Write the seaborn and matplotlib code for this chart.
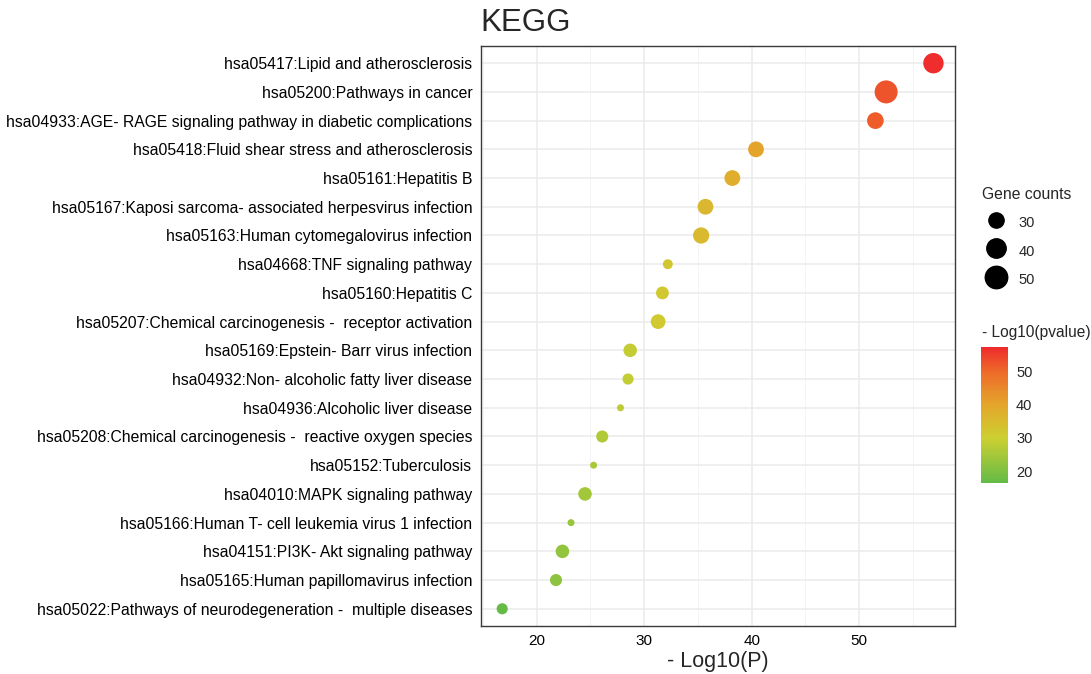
import numpy as np
import pandas as pd
import matplotlib
matplotlib.use("Agg")
import matplotlib.pyplot as plt
import seaborn as sns
from matplotlib.colors import LinearSegmentedColormap, Normalize
from matplotlib.lines import Line2D
from matplotlib.cm import ScalarMappable

# KEGG terms, top to bottom
terms = [
    "hsa05417:Lipid and atherosclerosis",
    "hsa05200:Pathways in cancer",
    "hsa04933:AGE- RAGE signaling pathway in diabetic complications",
    "hsa05418:Fluid shear stress and atherosclerosis",
    "hsa05161:Hepatitis B",
    "hsa05167:Kaposi sarcoma- associated herpesvirus infection",
    "hsa05163:Human cytomegalovirus infection",
    "hsa04668:TNF signaling pathway",
    "hsa05160:Hepatitis C",
    "hsa05207:Chemical carcinogenesis -  receptor activation",
    "hsa05169:Epstein- Barr virus infection",
    "hsa04932:Non- alcoholic fatty liver disease",
    "hsa04936:Alcoholic liver disease",
    "hsa05208:Chemical carcinogenesis -  reactive oxygen species",
    "hsa05152:Tuberculosis",
    "hsa04010:MAPK signaling pathway",
    "hsa05166:Human T- cell leukemia virus 1 infection",
    "hsa04151:PI3K- Akt signaling pathway",
    "hsa05165:Human papillomavirus infection",
    "hsa05022:Pathways of neurodegeneration -  multiple diseases",
]
neg_log_p = [56.9, 52.5, 51.5, 40.4, 38.2, 35.7, 35.3, 32.2, 31.7, 31.3,
             28.7, 28.5, 27.8, 26.1, 25.3, 24.5, 23.2, 22.4, 21.8, 16.8]
gene_counts = [43, 52, 33, 31, 31, 31, 32, 23, 26, 29,
               27, 24, 22, 25, 22, 27, 22, 27, 25, 24]
size_breaks = [30, 40, 50]
color_breaks = [20, 30, 40, 50]
x_ticks = [20, 30, 40, 50]

df = pd.DataFrame({"term": terms, "logp": neg_log_p, "count": gene_counts})

DPI = 100
cmin, cmax = min(gene_counts), max(gene_counts)


def diam_pt(c):
    # ggplot-like area scale: diameter grows with sqrt of rescaled count
    px = 7.0 + 16.0 * np.sqrt((c - cmin) / (cmax - cmin))
    return px * 72 / DPI


size_map = {c: diam_pt(c) ** 2 for c in sorted(set(gene_counts))}

cmap = LinearSegmentedColormap.from_list(
    "gyr", [(0, "#64BB46"), (0.33, "#CDCF31"), (0.58, "#E4A52B"),
            (0.82, "#EE6A2A"), (1, "#EE2A2C")])
norm = Normalize(16.5, 57.3)

sns.set_style("white")
plt.rcParams["font.family"] = ["Liberation Sans", "DejaVu Sans"]

fig = plt.figure(figsize=(10.91, 6.74), dpi=DPI)
ax = fig.add_axes([0.4406, 0.0712, 0.4347, 0.8606])

sns.scatterplot(data=df, x="logp", y="term", size="count", sizes=size_map,
                hue="logp", palette=cmap, hue_norm=norm, linewidth=0,
                legend=False, ax=ax, zorder=3)

ax.set_xlim(14.8, 58.9)
ax.set_ylim(len(terms) - 0.4, -0.6)
ax.set_xticks(x_ticks)
ax.set_xticks([15, 25, 35, 45, 55], minor=True)
ax.grid(which="major", color="#EBEBEB", linewidth=1.1, zorder=0)
ax.grid(which="minor", axis="x", color="#F2F2F2", linewidth=0.6, zorder=0)
ax.set_axisbelow(True)
for s in ax.spines.values():
    s.set_color("#3A3A3A")
    s.set_linewidth(1.0)
ax.tick_params(axis="both", which="major", length=3, width=0.8,
               color="#333333", labelcolor="black", pad=3)
ax.tick_params(axis="y", labelsize=11.3)
ax.tick_params(axis="x", labelsize=11)
ax.tick_params(axis="x", which="minor", length=0)
ax.set_ylabel("")
ax.set_xlabel("- Log10(P)", fontsize=15.5, labelpad=2)
ax.set_title("KEGG", loc="left", fontsize=22.5, pad=11)

# size legend
handles = [Line2D([], [], marker="o", linestyle="", color="black",
                  markersize=diam_pt(b)) for b in size_breaks]
leg = fig.legend(handles, [str(b) for b in size_breaks], title="Gene counts",
                 loc="upper left", bbox_to_anchor=(0.893, 0.733),
                 frameon=False, fontsize=10.5, title_fontsize=11.3,
                 borderpad=0, labelspacing=0.7, handleheight=1.6,
                 handletextpad=0.55, alignment="left")

# colour bar
fig.text(0.9, 1 - 333 / 674, "- Log10(pvalue)", fontsize=11.2, va="center")
cax = fig.add_axes([0.899, 0.2834, 0.0247, 0.2018])
cb = fig.colorbar(ScalarMappable(norm=norm, cmap=cmap), cax=cax)
cb.set_ticks(color_breaks)
cb.outline.set_visible(False)
cax.tick_params(length=4, width=0.8, color="white", direction="in",
                labelsize=10.5, pad=6)
cax.tick_params(left=True, direction="in")

fig.savefig("out.png", dpi=DPI, facecolor="white")
